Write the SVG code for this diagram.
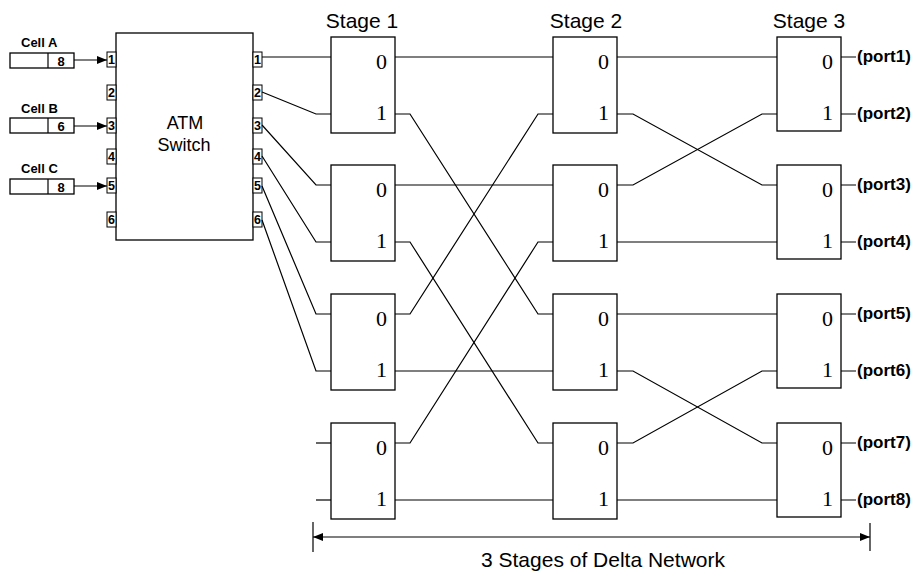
<svg xmlns="http://www.w3.org/2000/svg" width="919" height="574" viewBox="0 0 919 574">
<defs>
<style>
.bx{fill:#fff;stroke:#000;stroke-width:1.3}
.ln{fill:none;stroke:#000;stroke-width:1.2}
.pb{fill:#fff;stroke:#000;stroke-width:1}
.pd{font-family:"Liberation Sans",Arial,sans-serif;font-weight:bold;font-size:12.5px;text-anchor:middle}
.dg{font-family:"Liberation Serif","Times New Roman",serif;font-size:22px;text-anchor:end}
.st{font-family:"Liberation Sans",Arial,sans-serif;font-size:21px;text-anchor:middle}
.pt{font-family:"Liberation Sans",Arial,sans-serif;font-weight:bold;font-size:17px}
.cl{font-family:"Liberation Sans",Arial,sans-serif;font-weight:bold;font-size:13px}
.sw{font-family:"Liberation Sans",Arial,sans-serif;font-size:18px;text-anchor:middle}
</style>
<marker id="ah" viewBox="0 0 10 8" refX="10" refY="4" markerWidth="11" markerHeight="8" markerUnits="userSpaceOnUse" orient="auto-start-reverse"><path d="M0,0 L10,4 L0,8 Z" fill="#000"/></marker>
</defs>

<!-- Cells -->
<g id="cellA">
<text class="cl" x="21" y="47">Cell A</text>
<rect class="bx" x="10" y="53" width="64" height="15"/>
<line class="ln" x1="48" y1="53" x2="48" y2="68"/>
<text class="cl" x="61" y="65.5" text-anchor="middle">8</text>
</g>
<g id="cellB">
<text class="cl" x="21" y="113">Cell B</text>
<rect class="bx" x="10" y="118" width="64" height="15"/>
<line class="ln" x1="48" y1="118" x2="48" y2="133"/>
<text class="cl" x="61" y="130.5" text-anchor="middle">6</text>
</g>
<g id="cellC">
<text class="cl" x="21" y="173">Cell C</text>
<rect class="bx" x="10" y="179" width="64" height="15"/>
<line class="ln" x1="48" y1="179" x2="48" y2="194"/>
<text class="cl" x="61" y="191.5" text-anchor="middle">8</text>
</g>

<!-- ATM switch -->
<g id="atm">
<rect class="bx" x="116" y="33" width="137" height="207"/>
<text class="sw" x="185" y="129">ATM</text>
<text class="sw" x="184" y="151">Switch</text>
<rect class="pb" x="107" y="52" width="9" height="15"/><text class="pd" x="111.5" y="64">1</text>
<rect class="pb" x="107" y="85" width="9" height="15"/><text class="pd" x="111.5" y="97">2</text>
<rect class="pb" x="107" y="118" width="9" height="15"/><text class="pd" x="111.5" y="130">3</text>
<rect class="pb" x="107" y="149" width="9" height="15"/><text class="pd" x="111.5" y="161">4</text>
<rect class="pb" x="107" y="178" width="9" height="15"/><text class="pd" x="111.5" y="190">5</text>
<rect class="pb" x="107" y="212" width="9" height="15"/><text class="pd" x="111.5" y="224">6</text>
<rect class="pb" x="253" y="52" width="9" height="15"/><text class="pd" x="257.5" y="64">1</text>
<rect class="pb" x="253" y="85" width="9" height="15"/><text class="pd" x="257.5" y="97">2</text>
<rect class="pb" x="253" y="118" width="9" height="15"/><text class="pd" x="257.5" y="130">3</text>
<rect class="pb" x="253" y="149" width="9" height="15"/><text class="pd" x="257.5" y="161">4</text>
<rect class="pb" x="253" y="178" width="9" height="15"/><text class="pd" x="257.5" y="190">5</text>
<rect class="pb" x="253" y="212" width="9" height="15"/><text class="pd" x="257.5" y="224">6</text>
</g>

<!-- Stage labels -->
<text class="st" x="362" y="28">Stage 1</text>
<text class="st" x="586" y="28">Stage 2</text>
<text class="st" x="809" y="28">Stage 3</text>

<!-- Connectors -->
<g id="connectors">
<line class="ln" x1="74" y1="60" x2="107" y2="60" marker-end="url(#ah)"/>
<line class="ln" x1="74" y1="126" x2="107" y2="126" marker-end="url(#ah)"/>
<line class="ln" x1="74" y1="186" x2="107" y2="186" marker-end="url(#ah)"/>
<path class="ln" d="M262,57 H331"/>
<path class="ln" d="M262,92 L316,114 H331"/>
<path class="ln" d="M262,125 L316,185 H331"/>
<path class="ln" d="M262,156 L316,242 H331"/>
<path class="ln" d="M262,186 L316,314 H331"/>
<path class="ln" d="M262,220 L316,371 H331"/>
<path class="ln" d="M316,443 H331"/>
<path class="ln" d="M316,500 H331"/>
<path class="ln" d="M395,57 H553"/>
<path class="ln" d="M395,114 H410 L538,314 H553"/>
<path class="ln" d="M395,185 H553"/>
<path class="ln" d="M395,242 H410 L538,443 H553"/>
<path class="ln" d="M395,314 H410 L538,114 H553"/>
<path class="ln" d="M395,371 H553"/>
<path class="ln" d="M395,443 H410 L538,242 H553"/>
<path class="ln" d="M395,500 H553"/>
<path class="ln" d="M617,57 H777"/>
<path class="ln" d="M617,114 H633 L762,185 H777"/>
<path class="ln" d="M617,185 H633 L762,114 H777"/>
<path class="ln" d="M617,242 H777"/>
<path class="ln" d="M617,314 H777"/>
<path class="ln" d="M617,371 H633 L762,443 H777"/>
<path class="ln" d="M617,443 H633 L762,371 H777"/>
<path class="ln" d="M617,500 H777"/>
<path class="ln" d="M841,57 H856 M841,114 H856 M841,185 H856 M841,242 H856 M841,314 H856 M841,371 H856 M841,443 H856 M841,500 H856"/>
<line class="ln" x1="313" y1="537" x2="870" y2="537" marker-start="url(#ah)" marker-end="url(#ah)"/>
<line class="ln" x1="313" y1="522" x2="313" y2="552"/>
<line class="ln" x1="870" y1="523" x2="870" y2="551"/>
</g>

<!-- Stage 1 -->
<g id="s1b1"><rect class="bx" x="331" y="37" width="64" height="96"/><text class="dg" x="387" y="69">0</text><text class="dg" x="387" y="120">1</text></g>
<g id="s1b2"><rect class="bx" x="331" y="165" width="64" height="96"/><text class="dg" x="387" y="197">0</text><text class="dg" x="387" y="248">1</text></g>
<g id="s1b3"><rect class="bx" x="331" y="294" width="64" height="96"/><text class="dg" x="387" y="326">0</text><text class="dg" x="387" y="377">1</text></g>
<g id="s1b4"><rect class="bx" x="331" y="423" width="64" height="96"/><text class="dg" x="387" y="455">0</text><text class="dg" x="387" y="506">1</text></g>
<!-- Stage 2 -->
<g id="s2b1"><rect class="bx" x="553" y="37" width="64" height="96"/><text class="dg" x="609" y="69">0</text><text class="dg" x="609" y="120">1</text></g>
<g id="s2b2"><rect class="bx" x="553" y="165" width="64" height="96"/><text class="dg" x="609" y="197">0</text><text class="dg" x="609" y="248">1</text></g>
<g id="s2b3"><rect class="bx" x="553" y="294" width="64" height="96"/><text class="dg" x="609" y="326">0</text><text class="dg" x="609" y="377">1</text></g>
<g id="s2b4"><rect class="bx" x="553" y="423" width="64" height="96"/><text class="dg" x="609" y="455">0</text><text class="dg" x="609" y="506">1</text></g>
<!-- Stage 3 -->
<g id="s3b1"><rect class="bx" x="777" y="37" width="64" height="94"/><text class="dg" x="833" y="69">0</text><text class="dg" x="833" y="120">1</text></g>
<g id="s3b2"><rect class="bx" x="777" y="165" width="64" height="94"/><text class="dg" x="833" y="197">0</text><text class="dg" x="833" y="248">1</text></g>
<g id="s3b3"><rect class="bx" x="777" y="294" width="64" height="94"/><text class="dg" x="833" y="326">0</text><text class="dg" x="833" y="377">1</text></g>
<g id="s3b4"><rect class="bx" x="777" y="423" width="64" height="94"/><text class="dg" x="833" y="455">0</text><text class="dg" x="833" y="506">1</text></g>

<!-- Port labels -->
<g id="ports">
<text class="pt" x="857" y="62">(port1)</text>
<text class="pt" x="857" y="119">(port2)</text>
<text class="pt" x="857" y="190">(port3)</text>
<text class="pt" x="857" y="247">(port4)</text>
<text class="pt" x="857" y="319">(port5)</text>
<text class="pt" x="857" y="376">(port6)</text>
<text class="pt" x="857" y="448">(port7)</text>
<text class="pt" x="857" y="505">(port8)</text>
</g>

<text class="st" x="603" y="567">3 Stages of Delta Network</text>
</svg>
